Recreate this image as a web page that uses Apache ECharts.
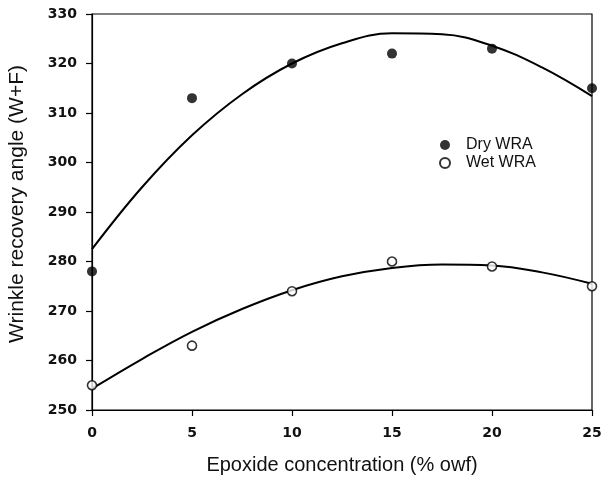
<!DOCTYPE html>
<html>
<head>
<meta charset="utf-8">
<script src="https://cdn.jsdelivr.net/npm/echarts@6/dist/echarts.min.js"></script>
<style>
  html, body { margin: 0; padding: 0; background: #fff; }
  #chart { width: 602px; height: 477px; }
</style>
</head>
<body>
<div id="chart"></div>
<script>
// 测量点
const concentration = [0, 5, 10, 15, 20, 25];
const dryWRA = [278, 313, 320, 322, 323, 315];
const wetWRA = [255, 263, 274, 280, 279, 275];

// 拟合曲线
const fitX = [0, 2.5, 5, 7.5, 10, 12.5, 15, 17.5, 20, 22.5, 25];
const dryFit = [282.5, 295.0, 305.5, 313.8, 320.0, 324.1, 326.1, 325.9, 323.6, 319.2, 313.4];
const wetFit = [254.3, 260.3, 265.8, 270.4, 274.2, 277.0, 278.7, 279.4, 279.2, 277.8, 275.5];

const xTicks = { min: 0, max: 25, interval: 5 };
const yTicks = { min: 250, max: 330, interval: 10 };

const pairs = (xs, ys) => xs.map((x, i) => [x, ys[i]]);

const chart = echarts.init(document.getElementById('chart'));

const font = 'Liberation Sans, Arial, sans-serif';
const tickFont = 'DejaVu Sans, sans-serif';

chart.setOption({
    animation: false,
    backgroundColor: '#fff',
    grid: {
        left: 92, right: 10, top: 14, bottom: 67,
        outerBoundsMode: 'none',
        containLabel: false,
        show: true,
        borderColor: '#000',
        borderWidth: 1.2
    },
    legend: {
        orient: 'vertical',
        left: 434,
        top: 132,
        itemWidth: 10,
        itemHeight: 10,
        itemGap: 2,
        textStyle: { fontFamily: font, fontSize: 16, color: '#111', padding: [0, 0, 0, 11] },
        data: [
            { name: 'Dry WRA', icon: 'circle' },
            { name: 'Wet WRA', icon: 'circle' }
        ]
    },
    xAxis: {
        type: 'value',
        min: xTicks.min, max: xTicks.max, interval: xTicks.interval,
        name: 'Epoxide concentration (% owf)',
        nameLocation: 'middle',
        nameGap: 45,
        nameTextStyle: { fontFamily: font, fontSize: 20, color: '#111' },
        axisLine: { lineStyle: { color: '#000', width: 1.2 } },
        axisTick: { show: true, length: 6, lineStyle: { color: '#000', width: 1.2 } },
        axisLabel: { fontFamily: tickFont, fontSize: 14, fontWeight: 'bold', color: '#111', margin: 16 },
        splitLine: { show: false }
    },
    yAxis: {
        type: 'value',
        min: yTicks.min, max: yTicks.max, interval: yTicks.interval,
        name: 'Wrinkle recovery angle (W+F)',
        nameLocation: 'middle',
        nameGap: 64,
        nameTextStyle: { fontFamily: font, fontSize: 21, color: '#111', padding: [0, 0, 0, 16] },
        axisLine: { show: true, lineStyle: { color: '#000', width: 1.2 } },
        axisTick: { show: true, length: 6, lineStyle: { color: '#000', width: 1.2 } },
        axisLabel: { fontFamily: tickFont, fontSize: 14, fontWeight: 'bold', color: '#111', margin: 15 },
        splitLine: { show: false }
    },
    series: [
        {
            name: 'Dry fit',
            type: 'line',
            data: pairs(fitX, dryFit),
            smooth: 0.4,
            showSymbol: false,
            lineStyle: { color: '#000', width: 2 },
            z: 1
        },
        {
            name: 'Wet fit',
            type: 'line',
            data: pairs(fitX, wetFit),
            smooth: 0.4,
            showSymbol: false,
            lineStyle: { color: '#000', width: 2 },
            z: 1
        },
        {
            name: 'Dry WRA',
            type: 'scatter',
            data: pairs(concentration, dryWRA),
            symbol: 'circle',
            symbolSize: 10,
            clip: false,
            itemStyle: { color: '#000' },
            z: 3
        },
        {
            name: 'Wet WRA',
            type: 'scatter',
            data: pairs(concentration, wetWRA),
            symbol: 'circle',
            symbolSize: 9,
            clip: false,
            itemStyle: { color: '#fff', borderColor: '#000', borderWidth: 1.6 },
            z: 3
        }
    ]
});
</script>
</body>
</html>
